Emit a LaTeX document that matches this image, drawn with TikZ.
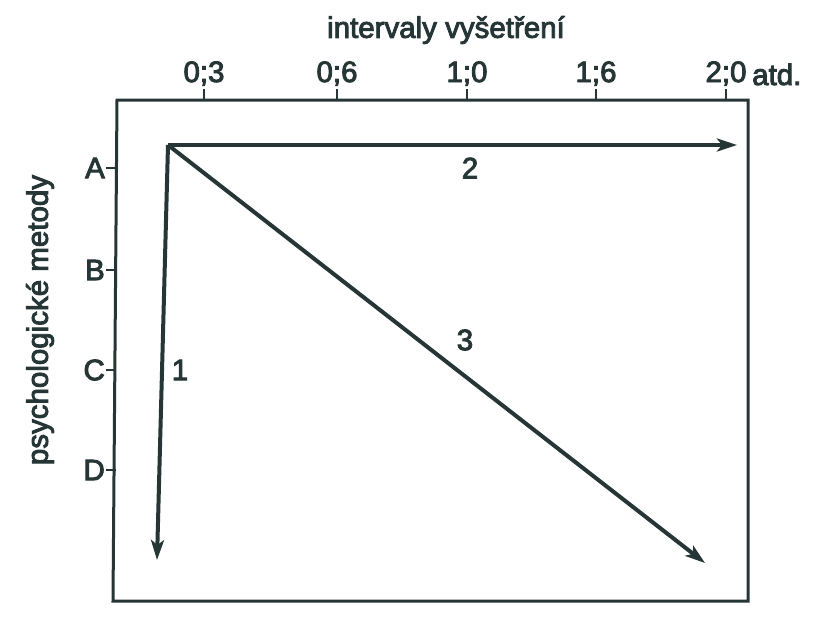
\documentclass[tikz,border=0pt]{standalone}
\usepackage{fontspec}
\setmainfont{Liberation Sans}
\usetikzlibrary{arrows.meta}
\definecolor{ink}{HTML}{263535}
\newcommand{\heavy}[1]{\special{pdf:literal direct 2 Tr 0.9 w}#1\special{pdf:literal direct 0 Tr}}
\tikzset{
  txt/.style={text=ink, font=\fontsize{29.5}{31}\selectfont, inner sep=0pt},
  frame/.style={draw=ink, line width=3pt},
  tick/.style={draw=ink, line width=2pt},
  arr/.style={draw=ink, line width=4pt, -{Stealth[length=20pt, width=13pt, inset=5pt]}}
}
\begin{document}
\begin{tikzpicture}[x=1pt, y=-1pt]
\useasboundingbox (0,0) rectangle (828,632);
\fill[white] (0,0) rectangle (828,632);
% frame
\coordinate (tl) at (117,100);
\coordinate (tr) at (748,100);
\coordinate (br) at (748,601);
\coordinate (bl) at (113,601);
\draw[frame] (tl) -- (tr) -- (br) -- (bl) -- cycle;
% top ticks and labels
\foreach \x/\t/\n in {204/0;3/t1, 337/0;6/t2, 467/1;0/t3, 596/1;6/t4, 726/2;0/t5}{
  \coordinate (\n a) at (\x,100);
  \coordinate (\n b) at (\x,89);
  \draw[tick] (\n a) -- (\n b);
  \node[txt, anchor=south] (\n) at (\x,86) {\heavy{\t}};
}
\node[txt, anchor=base west] (atd) at (752,85) {\heavy{atd.}};
\node[txt] (title) at (446,30) {\heavy{intervaly vyšetření}};
% left ticks and labels
\foreach \y/\t/\n in {168/A/la, 270/B/lb, 370/C/lc, 470/D/ld}{
  \coordinate (\n a) at (116,\y);
  \coordinate (\n b) at (106,\y);
  \draw[tick] (\n a) -- (\n b);
  \node[txt, anchor=east] (\n) at (105,\y) {\heavy{\t}};
}
\node[txt, rotate=90] (ylab) at (40,320) {\heavy{psychologické metody}};
% arrows
\coordinate (O) at (168,145);
\coordinate (E1) at (157,560);
\coordinate (E2) at (737,145);
\coordinate (E3) at (705,563);
\draw[arr] (O) -- (E1);
\draw[arr] (O) -- (E2);
\draw[arr] (O) -- (E3);
\node[txt] (n1) at (180,370) {\heavy{1}};
\node[txt] (n2) at (470,168) {\heavy{2}};
\node[txt] (n3) at (465,340) {\heavy{3}};
\end{tikzpicture}
\end{document}
